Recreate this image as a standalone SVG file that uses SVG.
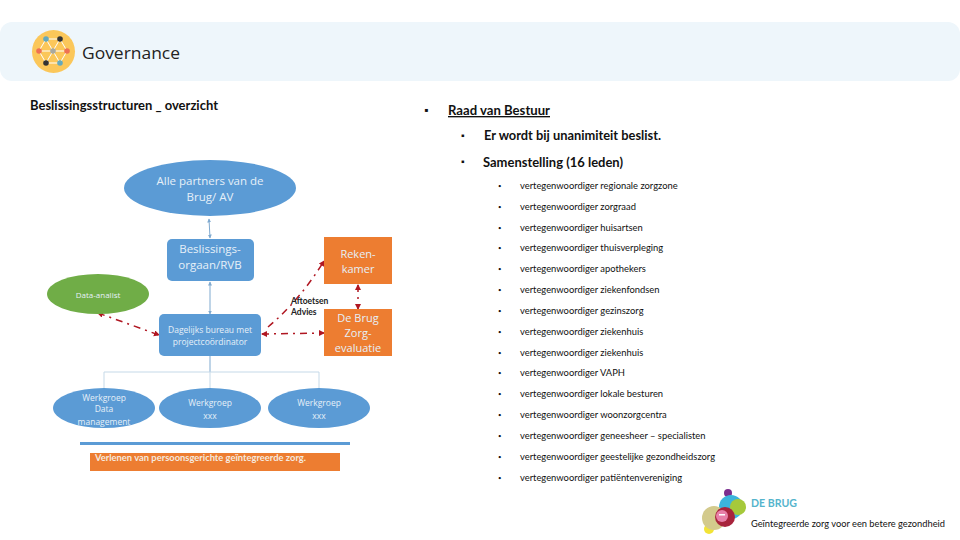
<svg xmlns="http://www.w3.org/2000/svg" width="960" height="540" viewBox="0 0 960 540">
<style>
text{font-family:"Lato","Open Sans","Liberation Sans",sans-serif}
.w{fill:#e6f0f8;font-family:"Open Sans","Noto Sans",sans-serif;text-anchor:middle}
.b{fill:#5b9bd5}
.o{fill:#ed7d31}
.l{fill:#111;font-size:9.400px}
.u{fill:#111;font-size:6px}
.m{fill:#111;font-size:13.500px;font-weight:700}
.d{fill:none;stroke:#b01722;stroke-width:1.500;stroke-dasharray:7 5 2 5}
.c{fill:none;stroke:#7fa9cf;stroke-width:1}
.t{fill:none;stroke:#c5d9e8;stroke-width:1}
</style>
<defs>
<marker id="r" markerUnits="userSpaceOnUse" markerWidth="7" markerHeight="7" refX="5" refY="3" orient="auto-start-reverse"><path d="M0 0L6 3L0 6Z" fill="#b01722"/></marker>
<marker id="a" markerUnits="userSpaceOnUse" markerWidth="5" markerHeight="5" refX="3.500" refY="2" orient="auto-start-reverse"><path d="M0 0L4 2L0 4Z" fill="#7fa9cf"/></marker>
</defs>
<g id="header">
<rect x="0" y="22" width="960" height="59" rx="12" fill="#eef6fb"/>
<circle cx="53.500" cy="51.500" r="21.500" fill="#fbc75a"/>
<g stroke="#fff" stroke-width="1" fill="none"><path d="M46 39H60L67 51L60 63H46L39 51ZM39 51H67M46 39L53 51L46 63M60 39L53 51L60 63"/></g>
<circle cx="46" cy="39" r="2.800" fill="#64a9bd"/><circle cx="60" cy="39" r="2.800" fill="#333"/>
<circle cx="39" cy="51" r="2.800" fill="#ee7154"/><circle cx="53" cy="51" r="2.800" fill="#a9a9a0"/><circle cx="67" cy="51" r="2.800" fill="#ee7154"/>
<circle cx="46" cy="63" r="2.800" fill="#333"/><circle cx="60" cy="63" r="2.800" fill="#64a9bd"/>
<text x="82" y="59" font-size="17" fill="#222" textLength="98" lengthAdjust="spacingAndGlyphs" style="font-family:'Open Sans',sans-serif">Governance</text>
</g>
<text x="30" y="110" class="m" textLength="188" lengthAdjust="spacingAndGlyphs">Beslissingsstructuren _ overzicht</text>
<g id="connectors">
<path class="c" d="M209 219L210 238" marker-start="url(#a)" marker-end="url(#a)"/>
<path class="c" d="M210 282L210 314" marker-start="url(#a)" marker-end="url(#a)"/>
<path class="c" d="M210 356V372"/>
<path class="t" d="M104 391V372H319V391M210 372V391"/>
<path class="d" d="M98 313L159 335" marker-start="url(#r)" marker-end="url(#r)"/>
<path class="d" d="M268 327Q300 300 324 261" marker-end="url(#r)"/>
<path class="d" d="M262 334L324 333" marker-start="url(#r)" marker-end="url(#r)"/>
<path class="d" d="M358 285V309" marker-start="url(#r)" marker-end="url(#r)"/>
</g>
<g id="partners"><ellipse cx="210" cy="188" rx="86" ry="28" class="b"/><text class="w" x="210" y="185" font-size="11.500">Alle partners van de</text><text class="w" x="210" y="201" font-size="11.500">Brug/ AV</text></g>
<g id="rvb"><rect x="167" y="239" width="87" height="42" rx="5" class="b"/><text class="w" x="210" y="253" font-size="11.500">Beslissings-</text><text class="w" x="210" y="269" font-size="11.500">orgaan/RVB</text></g>
<g id="analist"><ellipse cx="98" cy="294" rx="51" ry="20" fill="#70ad47"/><text class="w" x="98" y="298" font-size="8">Data-analist</text></g>
<g id="rekenkamer"><rect x="324" y="237" width="68" height="47" class="o"/><text class="w" x="358" y="258" font-size="11">Reken-</text><text class="w" x="358" y="273" font-size="11">kamer</text></g>
<text x="291" y="304" font-size="8.500" font-weight="700" fill="#222">Aftoetsen</text>
<text x="291" y="315" font-size="8.500" font-weight="700" fill="#222">Advies</text>
<g id="zorgevaluatie"><rect x="324" y="309" width="68" height="47" class="o"/><text class="w" x="358" y="322" font-size="11">De Brug</text><text class="w" x="358" y="337" font-size="11">Zorg-</text><text class="w" x="358" y="352" font-size="11">evaluatie</text></g>
<g id="bureau"><rect x="159" y="314" width="102" height="42" rx="5" class="b"/><text class="w" x="210" y="333" font-size="8.500">Dagelijks bureau met</text><text class="w" x="210" y="345" font-size="8.500">projectcoördinator</text></g>
<g id="wg1"><ellipse cx="104" cy="408" rx="51" ry="20" class="b"/><text class="w" x="104" y="401" font-size="8.500">Werkgroep</text><text class="w" x="104" y="412" font-size="8.500">Data</text><text class="w" x="104" y="425" font-size="8.500">management</text></g>
<g id="wg2"><ellipse cx="210" cy="408" rx="51" ry="20" class="b"/><text class="w" x="210" y="406" font-size="8.500">Werkgroep</text><text class="w" x="210" y="419" font-size="8.500">xxx</text></g>
<g id="wg3"><ellipse cx="319" cy="408" rx="51" ry="20" class="b"/><text class="w" x="319" y="406" font-size="8.500">Werkgroep</text><text class="w" x="319" y="419" font-size="8.500">xxx</text></g>
<rect x="80" y="442" width="270" height="3" class="b"/>
<g id="verlenen"><rect x="90" y="453" width="250" height="18" class="o"/><text x="95" y="461" font-size="8.500" font-weight="700" fill="#f5e9df" textLength="211" lengthAdjust="spacingAndGlyphs">Verlenen van persoonsgerichte geïntegreerde zorg.</text></g>
<g id="tekst">
<text x="424" y="114" font-size="11" fill="#111">▪</text>
<text x="448" y="115" class="m" text-decoration="underline" textLength="102" lengthAdjust="spacingAndGlyphs">Raad van Bestuur</text>
<text x="461" y="139" class="l">▪</text><text x="484" y="140" class="m" textLength="177" lengthAdjust="spacingAndGlyphs">Er wordt bij unanimiteit beslist.</text>
<text x="461" y="165" class="l">▪</text><text x="483" y="167" class="m" textLength="140" lengthAdjust="spacingAndGlyphs">Samenstelling (16 leden)</text>
<g class="l">
<text x="498" y="188" class="u">•</text><text x="520" y="189">vertegenwoordiger regionale zorgzone</text>
<text x="498" y="209" class="u">•</text><text x="520" y="210">vertegenwoordiger zorgraad</text>
<text x="498" y="230" class="u">•</text><text x="520" y="231">vertegenwoordiger huisartsen</text>
<text x="498" y="250" class="u">•</text><text x="520" y="251">vertegenwoordiger thuisverpleging</text>
<text x="498" y="271" class="u">•</text><text x="520" y="272">vertegenwoordiger apothekers</text>
<text x="498" y="292" class="u">•</text><text x="520" y="293">vertegenwoordiger ziekenfondsen</text>
<text x="498" y="313" class="u">•</text><text x="520" y="314">vertegenwoordiger gezinszorg</text>
<text x="498" y="334" class="u">•</text><text x="520" y="335">vertegenwoordiger ziekenhuis</text>
<text x="498" y="355" class="u">•</text><text x="520" y="356">vertegenwoordiger ziekenhuis</text>
<text x="498" y="375" class="u">•</text><text x="520" y="376">vertegenwoordiger VAPH</text>
<text x="498" y="396" class="u">•</text><text x="520" y="397">vertegenwoordiger lokale besturen</text>
<text x="498" y="417" class="u">•</text><text x="520" y="418">vertegenwoordiger woonzorgcentra</text>
<text x="498" y="438" class="u">•</text><text x="520" y="439">vertegenwoordiger geneesheer – specialisten</text>
<text x="498" y="459" class="u">•</text><text x="520" y="460">vertegenwoordiger geestelijke gezondheidszorg</text>
<text x="498" y="480" class="u">•</text><text x="520" y="481">vertegenwoordiger patiëntenvereniging</text>
</g>
</g>
<g id="logo">
<circle cx="709" cy="529" r="5" fill="#f2e337"/>
<circle cx="728" cy="493" r="4" fill="#7b2d8e"/>
<circle cx="731" cy="507" r="12" fill="#3cb4dc"/>
<circle cx="738" cy="507" r="8" fill="#a6c93a"/>
<circle cx="714" cy="518" r="12" fill="#d3ca8c"/>
<circle cx="725" cy="517" r="10" fill="#a8243c"/>
<circle cx="722" cy="516" r="6" fill="#e880a8"/>
<rect x="719" y="514" width="6" height="1.500" fill="#fff"/>
<text x="751" y="507" font-size="11" font-weight="700" fill="#55b4cc" textLength="46" lengthAdjust="spacingAndGlyphs">DE BRUG</text>
<text x="751" y="527" font-size="9" fill="#111" textLength="194" lengthAdjust="spacingAndGlyphs">Geïntegreerde zorg voor een betere gezondheid</text>
</g>
</svg>
